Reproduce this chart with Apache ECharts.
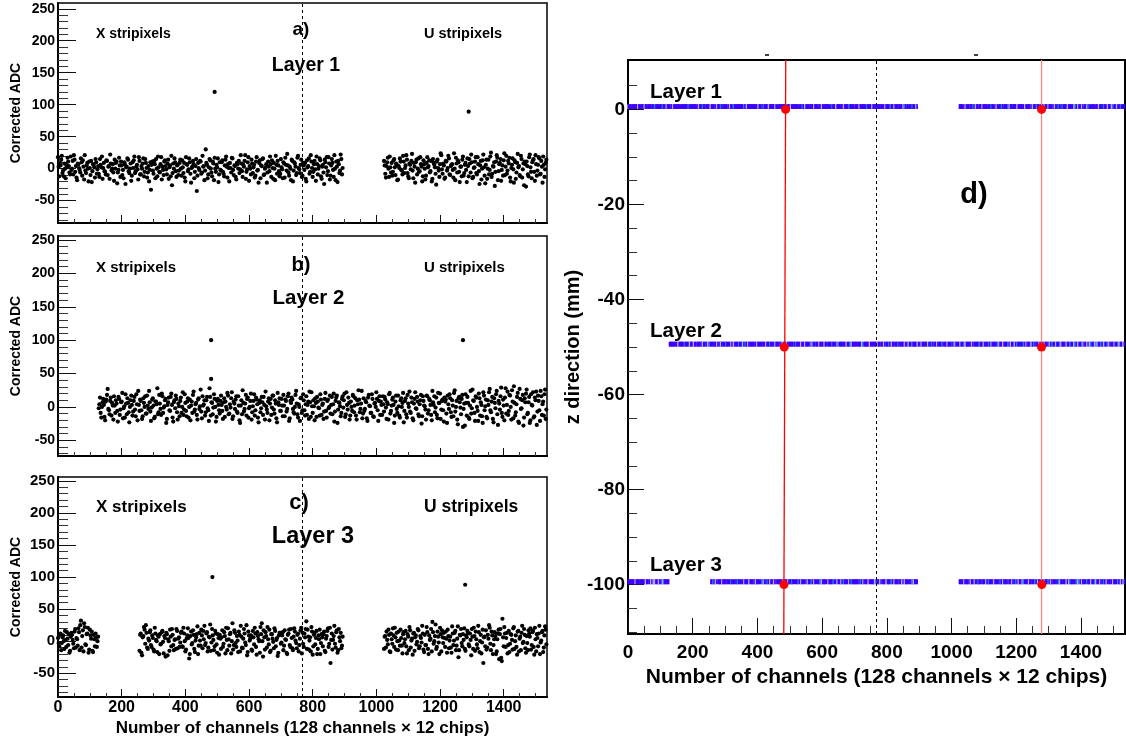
<!DOCTYPE html>
<html><head><meta charset="utf-8">
<script src="https://cdn.jsdelivr.net/npm/echarts@6/dist/echarts.min.js"></script>
<style>html,body{margin:0;padding:0;background:#fff;}#c{width:1126px;height:744px;}</style>
</head><body><div id="c"></div>
<script>
// ---------------- data ----------------
const CH_STEP = 4;            // each array stores one reading every 4 channels
const OFFSET_B = 2;           // the "B" arrays hold the readings in between (channel +2)
const SPLIT_CH = 768;         // X / U stripixel boundary

// Layer 1 (panel a): X side from ch 0, U side from ch 1024
const layer1Starts = [0, 1024];
const layer1X = [
 18,-12,5,20,-3,8,-15,2,11,-6,19,0,-9,14,4,-18,
 7,-2,16,-11,3,21,-7,9,-20,1,12,-4,6,-14,10,-1,
 -8,15,2,-16,9,-5,13,-10,4,22,-3,7,-19,0,11,-6,
 17,-13,5,-2,10,-24,3,14,-7,8,-11,1,19,-4,6,-17,
 12,-9,0,16,-5,9,-14,4,-2,-33,11,-8,7,15,-12,2,
 -6,18,3,-10,13,-1,8,-16,5,20,-7,0,10,-13,6,-3,
 14,-11,2,9,-20,7,-4,16,-8,1,12,-15,4,-35,9,-2,
 11,-6,3,-18,30,6,-9,15,0,-12,8,17,-5,2,-21,10,
 -3,13,-8,5,19,-14,1,9,-6,16,-10,4,-17,7,12,-1,
 8,-13,3,21,-5,10,-19,0,14,-7,6,-11,18,-2,9,-15,
 4,16,-9,2,-22,11,-4,7,13,-16,0,20,-8,5,-12,15,
 -1,10,-14,6,23,-6,3,-18,12,-3,8,-10,17,1,-7,14,
 -11,5,9,-20,2,16,-5,11,-13,7,-1,19,-9,4,13,-16,
 6,-24,10,18,-4,8,-11,15,-2,21,-18,3,12,-7,22,-9];
const layer1XB = [
 3,9,14,-7,-12,0,6,17,4,-9,-2,12,21,-5,-14,8,
 1,-6,10,13,-17,-3,5,0,11,-10,-21,7,2,15,-8,4,
 -13,6,19,1,-4,-9,12,3,-16,8,0,-6,14,9,-23,-2,
 5,11,-10,-15,7,2,16,-4,0,-19,10,13,-7,3,-1,18,
 -9,4,8,-12,15,1,-6,-20,10,6,-3,12,-15,0,19,-5,
 7,-17,-2,11,4,-9,14,2,-12,-26,8,16,-4,5,-10,9,
 0,13,-7,-14,18,6,-1,10,-22,3,7,-5,15,-11,1,12,
 -8,20,4,-3,9,-15,2,13,-6,11,-18,0,6,16,-9,-2,
 10,-5,-12,14,3,7,-20,1,17,-2,5,-13,9,0,-7,21,
 -4,6,12,-16,-1,18,4,-9,8,2,-14,11,-3,-22,13,5,
 15,-10,0,7,-6,3,19,-13,1,9,-18,6,12,-4,-8,2,
 -15,8,17,-3,5,-11,0,14,-20,10,3,-7,20,-1,6,-13,
 9,-2,-16,13,4,-8,21,1,-5,12,-19,7,0,16,-12,3,
 -6,14,2,-10,18,-17,5,9,-13,0,11,-21,7,-3,15,1];
const layer1U = [
 12,-8,4,17,-13,2,9,-5,15,-10,6,-17,1,11,-3,20,
 -7,5,14,-12,8,-1,23,-15,3,10,-9,16,-4,7,-20,13,
 0,-11,18,4,-6,12,-16,9,2,-25,14,-3,7,21,-8,5,
 -14,11,1,16,-10,6,-2,24,-18,8,13,-5,3,-12,19,-7,
 9,-21,4,15,-6,10,-13,2,18,-9,7,-24,12,0,22,-11,
 6,-16,14,-2,25,-8,3,-27,11,17,-4,9,-19,5,13,-10,
 20,-3,8,-14,1,16,-22,10,-6,23,4,-12,15,-1,-26,7,
 11,-9,18,2,-15,13,-5,21,-11,6,16,-8,3,19,-13,9];
const layer1UB = [
 5,-14,10,0,19,-6,-11,13,2,8,-18,4,16,-2,-9,11,
 1,21,-7,-15,6,12,-3,9,-22,14,0,-5,18,3,-12,7,
 -17,9,2,13,-4,-20,15,6,-8,11,1,-13,24,-1,8,-16,
 12,-3,20,-9,4,7,-14,0,17,-6,10,-21,3,14,-11,6,
 -2,16,-12,8,22,-15,1,11,-7,18,-4,5,-17,13,2,-23,
 14,0,-9,19,-13,4,10,-5,21,-18,7,15,-2,-11,24,3,
 -8,12,17,-20,6,-1,13,-16,9,2,-10,20,-14,8,11,-28,
 4,-12,22,-5,10,15,-19,7,-3,18,-9,12,-22,6,-1,14];

// Layer 2 (panel b): from ch 128 to the end
const layer2Starts = [128];
const layer2All = [
 -2,14,-16,7,3,-20,11,27,-5,9,-13,2,16,-9,5,-22,
 12,-4,8,-17,1,19,-11,6,-23,10,3,-7,15,-14,4,24,
 -6,9,-18,13,0,-10,17,-3,7,-21,11,2,-15,8,28,-8,
 5,-12,16,-1,10,-24,3,14,-6,20,-16,7,-2,12,-19,1,
 9,-9,22,-4,6,-14,13,0,-20,8,18,-7,4,-12,11,-3,
 26,-17,2,10,-8,15,-5,28,-13,6,-1,12,-22,9,3,-10,
 17,-6,7,-15,0,21,-11,4,13,-18,8,-3,16,-9,2,-24,
 10,25,-7,5,-13,14,-2,9,-19,1,19,-5,11,-16,6,-8,
 15,-12,3,23,-4,8,-20,12,-1,17,-10,5,-23,7,13,-6,
 2,18,-14,9,-3,20,-17,6,11,-8,0,24,-11,4,-21,14,
 -5,10,-13,16,3,-18,7,22,-9,1,13,-15,8,-2,19,-12,
 5,-7,21,-16,11,0,-10,15,4,-22,9,17,-4,6,-14,12,
 -1,20,-11,3,14,-19,8,-6,16,2,-13,10,25,-8,5,-17,
 13,-3,7,-21,18,1,-9,12,-15,6,22,-5,9,-12,3,16,
 -7,11,-18,4,19,-10,2,14,-24,8,-3,17,-13,10,0,21,
 -6,13,-16,5,23,-9,7,-20,12,-2,15,-11,4,18,-14,9,
 1,-19,16,-5,10,-12,24,3,-8,14,-17,6,20,-4,11,-22,
 8,-10,17,-3,13,-15,2,21,-7,9,-26,15,-1,12,-30,5,
 19,-13,6,-18,24,-2,10,-9,16,0,-21,13,7,-14,22,-5,
 11,-17,3,27,-8,15,-23,6,19,-11,9,-4,29,-15,2,14,
 -10,23,-6,17,-19,8,31,-13,4,21,-24,12,-2,18,-16,7,
 26,-9,15,-20,3,22,-14,10,-27,17,-5,24,-12,8,19,-18];
const layer2AllB = [
 4,-9,0,12,-15,8,18,-3,-11,14,6,-19,2,10,-6,15,
 -12,7,21,-2,-16,5,13,-8,0,17,-13,9,-4,19,-20,3,
 11,-5,-14,6,16,-10,2,24,-7,-1,13,-17,8,4,-11,18,
 -3,20,-9,1,12,-18,7,-5,15,3,-22,10,17,-8,5,-14,
 14,0,-12,19,-6,8,-16,11,2,-9,23,-4,6,-19,13,1,
 -7,16,4,-13,10,-2,-21,15,7,-11,19,0,-15,12,-5,9,
 3,-18,13,8,-4,17,-10,-1,22,-14,5,11,-7,16,-20,2,
 -11,6,-3,18,12,-16,0,20,-8,9,-13,14,4,-23,10,-2,
 7,15,-19,1,-9,13,5,-12,17,-4,10,-17,21,3,-6,12,
 -14,2,11,-7,16,-21,9,14,-3,-10,18,5,-16,0,13,-9,
 19,-5,4,-12,8,23,-15,1,10,-20,6,15,-1,-13,11,3,
 -18,12,-6,9,-2,17,3,-11,20,-7,14,-24,7,1,-9,16,
 10,-15,22,-4,6,-13,0,18,-8,13,-19,4,11,-3,24,-10,
 -6,9,-17,14,2,-9,19,-14,5,0,12,-21,16,8,-12,4,
 15,-1,7,-19,21,-6,11,3,-13,17,-9,1,-16,13,6,-23,
 9,-11,18,0,-7,14,-17,5,22,-3,8,-14,10,-25,16,2,
 -4,17,-10,12,3,-20,7,16,-1,-12,21,6,-18,9,-5,14,
 11,-24,4,19,-8,10,-14,25,0,-19,13,7,-11,18,-3,-28,
 6,15,-16,2,-10,26,9,-21,14,-6,20,-13,3,-24,17,1,
 -15,10,22,-5,8,-18,13,-2,24,-27,5,16,-9,11,-20,28,
 3,-12,18,0,25,-17,6,-8,15,-22,27,-3,10,-28,13,20,
 -11,7,-24,19,2,-16,14,23,-7,9,-21,16,4,-13,26,-4];

// Layer 3 (panel c): chip 0, then ch 256-895, then ch 1024 onwards
const layer3Starts = [0, 256, 1024];
const layer3A = [
 5,-8,12,-3,9,-12,2,14,-6,-18,7,10,-4,15,-10,3,
 20,-14,32,8,-16,22,-6,12,-18,18,4,-15,10,-8,6,0];
const layer3AB = [
 -3,10,-14,6,0,16,-9,4,11,-15,13,2,-11,19,5,-7,
 14,25,-10,17,28,-5,11,21,-13,9,15,-17,3,12,-9,7];
const layer3X = [
 -15,12,-22,8,18,25,-10,4,14,-6,9,-13,21,2,-17,7,
 11,-4,16,-19,5,13,-22,0,18,-8,10,-14,3,19,-11,6,
 -2,15,-9,12,-16,4,20,-27,8,-5,17,-12,1,11,-20,13,
 -7,9,16,24,-3,14,-10,6,-15,19,2,-8,12,-18,5,10,
 -12,17,-4,8,21,-14,3,11,-19,28,-6,13,-9,1,15,-16,
 7,-11,19,-2,25,-17,9,4,-13,16,-5,12,-21,8,0,22,
 28,-24,6,14,-10,3,18,-15,11,-1,20,-8,5,-18,13,-4,
 9,-14,17,2,-20,12,-6,19,-11,7,15,-3,10,-16,4,21,
 13,-9,6,31,18,-13,6,22,-21,10,-5,16,-12,3,-20,11,
 -8,15,-17,8,20,-4,-34,12,2,24,-10,17,-14,6,13,-7];
const layer3XB = [
 10,-18,6,22,-4,13,-12,1,17,-9,5,-16,12,0,9,-20,
 -5,14,-1,8,-24,11,3,-15,7,19,-6,2,-12,16,4,-9,
 13,-8,21,0,-13,9,5,-20,15,-3,10,-17,6,23,-7,1,
 18,-11,3,-6,12,-16,7,26,-2,9,-14,16,-5,11,-21,4,
 6,-9,14,-19,2,20,-7,13,0,-13,17,-3,8,-17,10,24,
 -10,4,12,-6,-22,15,1,9,-15,6,21,-9,14,3,-18,11,
 0,17,-13,8,22,-5,-17,11,4,-11,16,2,-23,9,13,-2,
 14,-7,3,-18,10,18,-9,5,-14,20,1,-11,12,-6,17,-19,
 -4,12,19,-12,7,1,-16,15,-8,13,5,-20,9,18,-3,6,
 11,-15,4,16,-9,21,2,-13,8,-4,14,-18,19,0,-11,7];
const layer3U = [
 -12,8,15,-5,10,-17,3,20,-9,6,13,-14,1,18,-7,11,
 -3,16,-19,7,22,-10,4,12,-15,9,-1,17,-8,5,24,-13,
 10,-6,14,-20,2,19,30,-4,8,-12,15,-2,21,-16,6,13,
 -9,4,18,-11,7,-18,12,1,16,-7,23,-14,9,-3,11,20,
 -15,6,13,-8,2,19,-12,8,15,-5,24,-17,10,-2,-34,7,
 17,-10,4,21,-14,9,-6,14,-20,3,18,11,-26,35,-8,12,
 5,-19,16,-4,10,-13,22,0,-9,15,-16,7,13,-3,19,-11,
 8,-14,12,20,-6,16,-21,3,11,-8,24,-2,14,-17,9,18];
const layer3UB = [
 7,-10,2,18,-16,12,-4,9,21,-13,0,15,-7,5,-19,14,
 3,-8,11,-14,17,1,-21,13,6,-5,19,-11,8,-2,12,-17,
 -6,22,-12,9,4,-16,14,0,26,-9,7,-20,11,17,-3,5,
 15,-18,8,1,-10,23,-6,13,-14,4,-25,10,19,-8,2,-12,
 9,16,-5,12,-22,7,21,-15,3,-11,14,0,-19,18,6,-8,
 -13,10,25,-4,15,-20,3,8,-16,12,-28,19,-31,6,22,-9,
 13,-6,-17,11,2,20,-12,9,-21,16,4,-14,24,-1,10,-18,
 -3,17,7,-13,14,-9,21,-16,5,12,-20,1,16,-10,23,-5];

// large hits [channel, ADC]
const hitsA = [[492, 120], [1290, 89]];
const hitsB = [[481, 100], [481, 42], [1272, 100]];
const hitsC = [[485, 100], [1279, 88]];

// panel d : layer z positions, reconstructed hits and tracks
const layerZ = [0, -50, -100];
const hitsD = [[487, 0], [1278, 0], [483, -50], [1278, -50], [482, -100], [1279, -100]];
const trackLeft = [[487.5, 10.4], [481.5, -110.4]];
const trackRight = [[1278, 10.4], [1278, -110.4]];

// axes / ticks
const chRange = [0, 1536];
const adcRangeA = [-85, 259], adcRangeB = [-73.5, 256], adcRangeC = [-87, 256];
const zRange = [-110.4, 10.4];
const adcMajor = [-50, 0, 50, 100, 150, 200, 250];
const adcMinor = [-80,-70,-60,-40,-30,-20,-10,10,20,30,40,60,70,80,90,110,120,130,140,160,170,180,190,210,220,230,240];
const chMajor = [0, 200, 400, 600, 800, 1000, 1200, 1400];
const chMinor = [50,100,150,250,300,350,450,500,550,650,700,750,850,900,950,1050,1100,1150,1250,1300,1350,1450,1500];
const zMajor = [0, -20, -40, -60, -80, -100];
const zMinor = [5,-5,-10,-15,-25,-30,-35,-45,-50,-55,-65,-70,-75,-85,-90,-95,-105,-110];

const xTitle = 'Number of channels (128 channels \u00d7 12 chips)';

// ---------------- helpers ----------------
const FONT = '"Liberation Sans", Arial, Helvetica, sans-serif';
function toPoints(starts, groupsA, groupsB) {
  const out = [];
  groupsA.forEach((g, i) => g.forEach((v, j) => out.push([starts[i] + CH_STEP * j, v])));
  groupsB.forEach((g, i) => g.forEach((v, j) => out.push([starts[i] + OFFSET_B + CH_STEP * j, v])));
  return out;
}
function bandPoints(pts, z) {
  return pts.map(p => [p[0], z + 0.6, p[1]]);
}
function bandColor(p) {
  const v = p.data[2];
  if (v >= 15) return '#b0acff';
  if (v <= -17) return '#1f78ff';
  return '#3c00ff';
}
const lbl = (size, show, margin) => ({
  show: show, fontFamily: FONT, fontWeight: 'bold', fontSize: size, color: '#000', margin: margin,
  formatter: v => String(v)
});
function xPair(grid, range, showLbl, lblSize, tickLen, minorLen, name, nameSize, nameGap, lblMargin) {
  return [{
    type: 'value', gridIndex: grid, min: range[0], max: range[1], position: 'bottom',
    axisLine: {show: true, onZero: false, lineStyle: {color: '#000', width: 2}},
    axisTick: {show: true, inside: true, length: tickLen, customValues: chMajor, lineStyle: {color: '#111', width: 1}},
    axisLabel: Object.assign(lbl(lblSize, showLbl, lblMargin), {customValues: chMajor}),
    splitLine: {show: false},
    name: name, nameLocation: 'middle', nameGap: nameGap,
    nameTextStyle: {fontFamily: FONT, fontWeight: 'bold', fontSize: nameSize, color: '#000'}
  }, {
    type: 'value', gridIndex: grid, min: range[0], max: range[1], position: 'bottom',
    axisLine: {show: false, onZero: false},
    axisTick: {show: true, inside: true, length: minorLen, customValues: chMinor, lineStyle: {color: '#333', width: 1}},
    axisLabel: {show: false}, splitLine: {show: false}
  }];
}
function yPair(grid, range, major, minor, lblSize, tickLen, minorLen, name, nameSize, nameGap) {
  return [{
    type: 'value', gridIndex: grid, min: range[0], max: range[1], position: 'left',
    axisLine: {show: true, onZero: false, lineStyle: {color: '#000', width: 2}},
    axisTick: {show: true, inside: true, length: tickLen, customValues: major, lineStyle: {color: '#111', width: 1}},
    axisLabel: Object.assign(lbl(lblSize, true, 3), {customValues: major}),
    splitLine: {show: false},
    name: name, nameLocation: 'middle', nameGap: nameGap, nameRotate: 90,
    nameTextStyle: {fontFamily: FONT, fontWeight: 'bold', fontSize: nameSize, color: '#000'}
  }, {
    type: 'value', gridIndex: grid, min: range[0], max: range[1], position: 'left',
    axisLine: {show: false, onZero: false},
    axisTick: {show: true, inside: true, length: minorLen, customValues: minor, lineStyle: {color: '#333', width: 1}},
    axisLabel: {show: false}, splitLine: {show: false}
  }];
}
const dashLine = {
  silent: true, symbol: ['none', 'none'], label: {show: false}, animation: false,
  lineStyle: {color: '#000', type: [3, 3], width: 1}, emphasis: {disabled: true},
  data: [{xAxis: SPLIT_CH}]
};
function noiseSeries(ax, pts, withLine) {
  const s = {type: 'scatter', xAxisIndex: ax, yAxisIndex: ax, data: pts, symbol: 'circle', symbolSize: 4.2,
    itemStyle: {color: '#000', opacity: 1}, silent: true, large: false};
  if (withLine) s.markLine = dashLine;
  return s;
}
function bandSeries(pts, withLine) {
  const s = {type: 'scatter', xAxisIndex: 6, yAxisIndex: 6, symbol: 'rect', symbolSize: [1.4, 4.8], silent: true, z: 2,
    data: pts, itemStyle: {color: bandColor, opacity: 1}, large: false};
  if (withLine) s.markLine = dashLine;
  return s;
}
function txt(x, y, t, size, align) {
  return {type: 'text', x: x, y: y, z: 100, silent: true,
    style: {text: t, font: 'bold ' + size + 'px ' + FONT, fill: '#000', align: align || 'left', verticalAlign: 'middle'}};
}

const pts1 = toPoints(layer1Starts, [layer1X, layer1U], [layer1XB, layer1UB]);
const pts2 = toPoints(layer2Starts, [layer2All], [layer2AllB]);
const pts3 = toPoints(layer3Starts, [layer3A, layer3X, layer3U], [layer3AB, layer3XB, layer3UB]);

// ---------------- chart ----------------
const chart = echarts.init(document.getElementById('c'), null, {renderer: 'canvas'});
const gridStyle = {show: true, borderColor: '#000', borderWidth: 1.5, backgroundColor: 'transparent', containLabel: false};
const option = {
  animation: false,
  backgroundColor: '#fff',
  grid: [
    Object.assign({left: 58, top: 3, width: 489, height: 220}, gridStyle),
    Object.assign({left: 58, top: 236, width: 489, height: 220}, gridStyle),
    Object.assign({left: 58, top: 477, width: 489, height: 220}, gridStyle),
    Object.assign({left: 628, top: 60, width: 497, height: 574}, gridStyle, {borderWidth: 2})
  ],
  xAxis: [
    ...xPair(0, chRange, false, 16, 8, 4, '', 10, 10, 3),
    ...xPair(1, chRange, false, 16, 8, 4, '', 10, 10, 3),
    ...xPair(2, chRange, true, 16, 8, 4, xTitle, 17, 23, 3),
    ...xPair(3, chRange, true, 19, 16, 8, xTitle, 21, 30, 9)
  ],
  yAxis: [
    ...yPair(0, adcRangeA, adcMajor, adcMinor, 14, 18, 10, 'Corrected ADC', 14, 35),
    ...yPair(1, adcRangeB, adcMajor, adcMinor, 14, 18, 10, 'Corrected ADC', 14, 35),
    ...yPair(2, adcRangeC, adcMajor, adcMinor, 15, 18, 10, 'Corrected ADC', 14, 35),
    ...yPair(3, zRange, zMajor, zMinor, 19, 16, 9, 'z direction (mm)', 20, 37)
  ],
  series: [
    noiseSeries(0, pts1, true),
    noiseSeries(0, hitsA, false),
    noiseSeries(2, pts2, true),
    noiseSeries(2, hitsB, false),
    noiseSeries(4, pts3, true),
    noiseSeries(4, hitsC, false),
    // panel d
    bandSeries(bandPoints(pts1, layerZ[0]), true),
    bandSeries(bandPoints(pts2, layerZ[1]), false),
    bandSeries(bandPoints(pts3, layerZ[2]), false),
    {type: 'line', xAxisIndex: 6, yAxisIndex: 6, data: trackLeft, showSymbol: false, silent: true, z: 3,
     lineStyle: {color: '#ff0000', width: 1.3}},
    {type: 'line', xAxisIndex: 6, yAxisIndex: 6, data: trackRight, showSymbol: false, silent: true, z: 3,
     lineStyle: {color: '#ff8585', width: 1.3}},
    {type: 'scatter', xAxisIndex: 6, yAxisIndex: 6, data: hitsD, symbol: 'circle', symbolSize: 9, silent: true, z: 4,
     itemStyle: {color: '#ff0000', opacity: 1}}
  ],
  graphic: [
    txt(96, 34.5, 'X stripixels', 14),
    txt(301, 30, 'a)', 19, 'center'),
    txt(306, 66, 'Layer 1', 19.5, 'center'),
    txt(424, 34, 'U stripixels', 14.5),
    txt(96, 268, 'X stripixels', 15),
    txt(301, 265, 'b)', 20, 'center'),
    txt(308.5, 298, 'Layer 2', 20.5, 'center'),
    txt(424, 268, 'U stripixels', 15),
    txt(96, 507.5, 'X stripixels', 17),
    txt(299, 503, 'c)', 22, 'center'),
    txt(313, 536.5, 'Layer 3', 23.5, 'center'),
    txt(424, 507.5, 'U stripixels', 17.5),
    txt(650, 92, 'Layer 1', 20.5),
    txt(650, 331, 'Layer 2', 20.5),
    txt(650, 565, 'Layer 3', 20.5),
    txt(974, 195, 'd)', 29, 'center'),
    {type: 'line', silent: true, shape: {x1: 765, y1: 55, x2: 769, y2: 55}, style: {stroke: '#000', lineWidth: 1.5}},
    {type: 'line', silent: true, shape: {x1: 974, y1: 55, x2: 978, y2: 55}, style: {stroke: '#000', lineWidth: 1.5}}
  ]
};
chart.setOption(option);
</script>
</body></html>
